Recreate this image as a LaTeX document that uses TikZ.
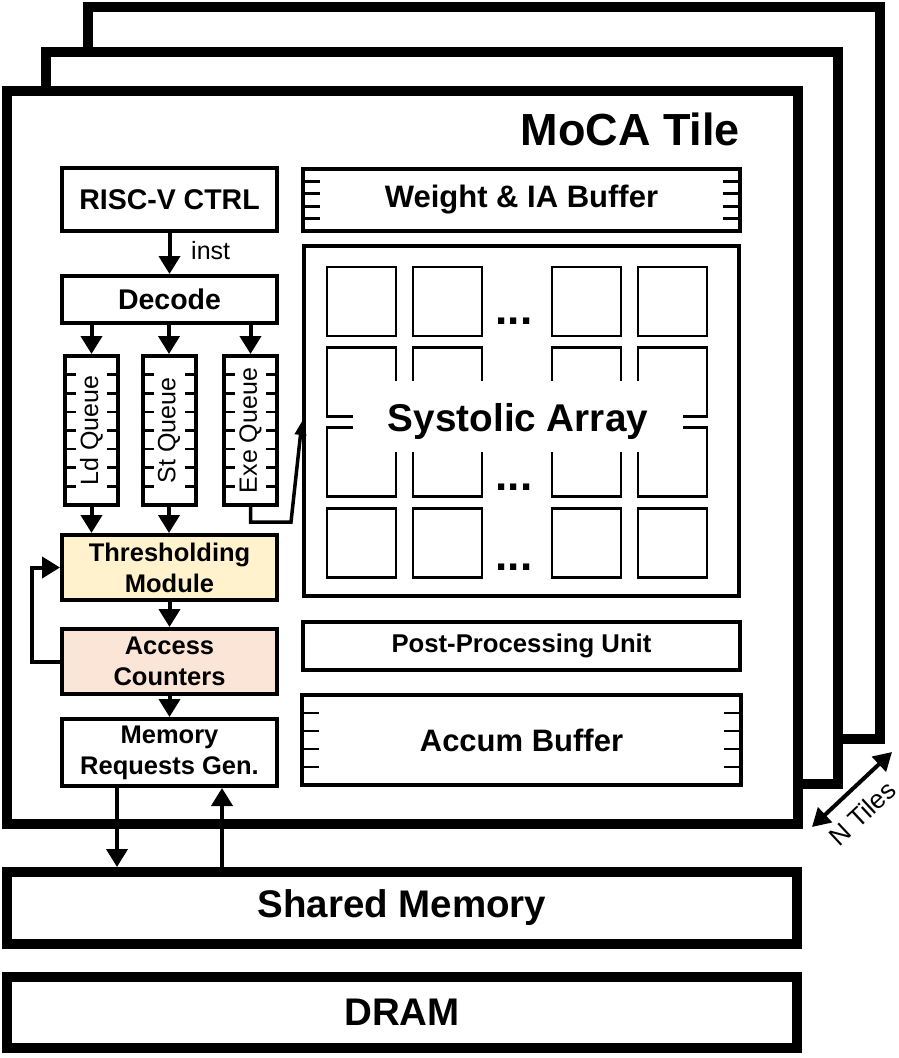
\documentclass[tikz,border=0pt]{standalone}
\usepackage{fontspec}
\setmainfont{Liberation Sans}
\usetikzlibrary{positioning,arrows.meta}
\definecolor{ThrYellow}{HTML}{FFF2CC}
\definecolor{AccPink}{HTML}{FBE5D6}
\tikzset{
  frame/.style={draw=black,fill=white,line width=10pt},
  blk/.style={draw=black,fill=white,line width=4pt,inner sep=0pt,align=center,
    font=\bfseries\fontsize{25.5}{31}\selectfont},
  queue/.style={blk,minimum width=53pt,minimum height=149pt},
  qtext/.style={rotate=90,inner sep=0pt,font=\fontsize{25}{30}\selectfont},
  pe/.style={draw=black,line width=2.5pt,minimum width=69pt,minimum height=69pt,inner sep=0pt},
  dots/.style={anchor=base,inner sep=0pt,font=\bfseries\fontsize{44}{50}\selectfont},
  tick/.style={line width=2.7pt},
  arr/.style={line width=4pt,-{Triangle[length=18pt,width=21pt]}},
  thinarr/.style={line width=3.5pt,-{Triangle[length=14pt,width=11pt]}},
  dbl/.style={line width=4pt,{Triangle[length=18pt,width=20pt]}-{Triangle[length=18pt,width=20pt]}},
}

\begin{document}
\begin{tikzpicture}[x=1pt,y=-1pt]
\useasboundingbox (0,0) rectangle (899,1058);
% stacked tiles
\draw[frame] (88,7) rectangle (880,739);
\draw[frame] (46,52) rectangle (838,784);
\draw[frame] (7,91) rectangle (798,824);
\node[anchor=base east,inner sep=0pt,font=\bfseries\fontsize{45}{54}\selectfont] (title) at (740,145) {MoCA Tile};

% control path
\node[blk,minimum width=215pt,minimum height=63pt,font=\bfseries\fontsize{28.5}{34}\selectfont] (ctrl) at (169.5,199.5) {RISC-V CTRL};
\node[blk,minimum width=215pt,minimum height=47pt,font=\bfseries\fontsize{28.5}{34}\selectfont] (dec) at (169.5,299.5) {Decode};
\node[anchor=base west,inner sep=0pt,font=\fontsize{25}{30}\selectfont] (inst) at (191,259) {inst};

\node[queue] (ldq) at (91.5,430.5) {};
\node[queue] (stq) at (169,430.5) {};
\node[queue] (exq) at (250.5,430.5) {};
\foreach \q in {ldq,stq,exq}
  \foreach \k in {1,...,7} {
    \draw[tick] ([yshift={-(2+\k*18.625)*1pt}]\q.north west) -- ++(13,0);
    \draw[tick] ([yshift={-(2+\k*18.625)*1pt}]\q.north east) -- ++(-13,0);
  }
\node[qtext] (ldqt) at (ldq) {Ld Queue};
\node[qtext] (stqt) at (stq) {St Queue};
\node[qtext] (exqt) at (exq) {Exe Queue};

\node[blk,fill=ThrYellow,minimum width=215pt,minimum height=65pt] (thr) at (169.5,567.5) {Thresholding\\Module};
\node[blk,fill=AccPink,minimum width=215pt,minimum height=65pt] (acc) at (169.5,661.5) {Access\\Counters};
\node[blk,minimum width=215pt,minimum height=67pt] (mem) at (169.5,752.5) {Memory\\Requests Gen.};

% compute path
\node[blk,minimum width=437pt,minimum height=62pt,font=\bfseries\fontsize{31}{37}\selectfont] (wbuf) at (521.5,200) {Weight \& IA Buffer};
\foreach \k in {1,...,4} {
  \draw[tick] ([yshift={-(2+\k*12.4)*1pt}]wbuf.north west) -- ++(19,0);
  \draw[tick] ([yshift={-(2+\k*12.4)*1pt}]wbuf.north east) -- ++(-19,0);
}
\node[blk,minimum width=435pt,minimum height=350pt] (sa) at (521.5,421) {};
\foreach \cx [count=\i] in {361.5,447.5,586.5,672.5}
  \foreach \cy [count=\j] in {301.5,382,462,543}
    \node[pe] (pe-\i-\j) at (\cx,\cy) {};
\node[fill=white,inner sep=0pt,minimum width=330pt,minimum height=71pt] (salabel) at (518,416.5) {};
\node[inner sep=0pt,font=\bfseries\fontsize{38.7}{46}\selectfont] (satext) at (518,421) {Systolic Array};
\node[dots] (dots1) at (514,324) {...};
\node[dots] (dots3) at (514,490) {...};
\node[dots] (dots4) at (514,570) {...};

\node[blk,minimum width=437pt,minimum height=48pt,font=\bfseries\fontsize{25.7}{31}\selectfont] (ppu) at (521.5,646) {Post-Processing Unit};
\node[blk,minimum width=439pt,minimum height=90pt,font=\bfseries\fontsize{31}{37}\selectfont] (accb) at (521.5,740) {Accum Buffer};
\foreach \k in {1,...,4} {
  \draw[tick] ([yshift={-(2+\k*18)*1pt}]accb.north west) -- ++(19,0);
  \draw[tick] ([yshift={-(2+\k*18)*1pt}]accb.north east) -- ++(-19,0);
}

% memories
\node[blk,line width=10pt,minimum width=790pt,minimum height=72pt,font=\bfseries\fontsize{38.5}{46}\selectfont] (shm) at (402,908) {Shared Memory};
\node[blk,line width=10pt,minimum width=790pt,minimum height=71pt,font=\bfseries\fontsize{38.5}{46}\selectfont] (dram) at (402,1012.5) {DRAM};

% connections
\draw[arr] (ctrl) -- (dec);
\draw[arr] (dec.south -| ldq.north) -- (ldq.north);
\draw[arr] (dec.south -| stq.north) -- (stq.north);
\draw[arr] (dec.south -| exq.north) -- (exq.north);
\draw[arr] (ldq.south) -- (ldq.south |- thr.north);
\draw[arr] (stq.south) -- (stq.south |- thr.north);
\coordinate (exbend) at (291,522);
\draw[thinarr] (exq.south) |- (exbend) -- (sa.west);
\draw[arr] (thr) -- (acc);
\draw[arr] (acc) -- (mem);
\draw[arr] (acc.west) -- ++(-28,0) |- (thr.west);
\draw[arr] ([xshift=57pt]mem.south west) -- ([xshift=57pt]mem.south west |- shm.north);
\draw[arr] ([xshift=162pt]mem.south west |- shm.north) -- ([xshift=162pt]mem.south west);

% tile count
\coordinate (ntA) at (812,827);
\coordinate (ntB) at (892,752);
\draw[dbl] (ntA) -- (ntB);
\node[rotate=43,inner sep=0pt,font=\fontsize{26}{30}\selectfont] (ntiles) at (862,813) {N Tiles};
\end{tikzpicture}
\end{document}
